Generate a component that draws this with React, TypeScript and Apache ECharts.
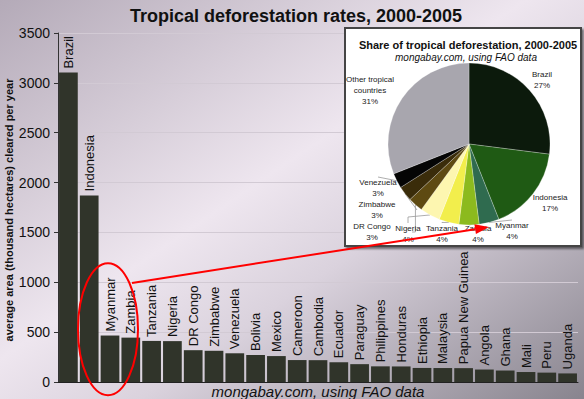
import React, { useEffect, useRef } from "react";
import * as echarts from "echarts";

const categories = ["Brazil","Indonesia","Myanmar","Zambia","Tanzania","Nigeria","DR Congo","Zimbabwe","Venezuela","Bolivia","Mexico","Cameroon","Cambodia","Ecuador","Paraguay","Philippines","Honduras","Ethiopia","Malaysia","Papua New Guinea","Angola","Ghana","Mali","Peru","Uganda"];
const rates = [3103,1871,466,445,412,410,319,313,288,270,260,220,219,198,179,157,156,141,140,139,125,115,100,94,86];
const yTicks = [0, 500, 1000, 1500, 2000, 2500, 3000, 3500];
const yTitle = "average area (thousand hectares) cleared per year";

const pieNames = ["Brazil","Indonesia","Myanmar","Zambia","Tanzania","Nigeria","DR Congo","Zimbabwe","Venezuela","Other tropical\ncountries"];
const pieShares = [27,17,4,4,4,4,3,3,3,31];
const pieColors = ["#0c1a0c","#1f5a14","#2f6b4f","#8cba1e","#f2ee4c","#fdf6b0","#5e4a12","#3a2c0a","#050505","#a8a6ae"];
// label anchor positions inside the inset box (layout only)
const pieLabelPos = [[542,80],[550,203],[512,231],[478,234],[442,234],[408,234],[372,232],[377,210],[378,188],[370,90]];
const pieLabelLine = [false,false,true,true,true,true,true,true,true,false];

const FONT = "'Liberation Sans', Arial, sans-serif";

export default function App() {
  const ref = useRef<HTMLDivElement>(null);
  useEffect(() => {
    document.body.style.margin = "0";
    const chart = echarts.init(ref.current!, null, { renderer: "svg" });
    const boxRect = {
      type: "rect",
      z: 1,
      shape: { x: 345, y: 28, width: 236, height: 218 },
      style: { fill: "#ffffff", stroke: "#444", lineWidth: 2, shadowColor: "rgba(0,0,0,0.5)", shadowOffsetX: 2, shadowOffsetY: 2, shadowBlur: 2 },
    };
    const yName = {
      type: "text",
      z: 10,
      x: 9,
      y: 210,
      rotation: Math.PI / 2,
      style: {
        text: yTitle,
        fontSize: 11,
        fontWeight: "bold",
        fill: "#111",
        fontFamily: FONT,
        align: "center",
        verticalAlign: "middle",
      },
    };
    const option: any = {
      animation: false,
      backgroundColor: new echarts.graphic.LinearGradient(0, 0, 1, 1, [
        { offset: 0, color: "#b4aab8" },
        { offset: 0.45, color: "#eee6ef" },
        { offset: 0.62, color: "#dad2dd" },
        { offset: 1, color: "#88848e" },
      ]),
      textStyle: { fontFamily: FONT },
      title: [
        {
          text: "Tropical deforestation rates, 2000-2005",
          left: 291, top: 2, textAlign: "center",
          textStyle: { fontSize: 18, fontWeight: "bold", color: "#111", fontFamily: FONT },
        },
        {
          text: "Share of tropical deforestation, 2000-2005",
          left: 463, top: 34, textAlign: "center",
          textStyle: { fontSize: 11, fontWeight: "bold", color: "#111", fontFamily: FONT },
        },
        {
          text: "mongabay.com, using FAO data",
          left: 461, top: 47, textAlign: "center",
          textStyle: { fontSize: 10, fontStyle: "italic", fontWeight: "normal", color: "#111", fontFamily: FONT },
        },
      ],
      grid: { left: 58, right: 6, top: 33, bottom: 17, containLabel: false, outerBoundsMode: "none" },
      xAxis: {
        type: "category",
        data: categories,
        axisLine: { lineStyle: { color: "#222", width: 1 } },
        axisTick: { show: false },
        axisLabel: { show: false },
        name: "mongabay.com, using FAO data",
        nameLocation: "middle",
        nameGap: 2,
        nameTextStyle: { fontSize: 15, fontStyle: "italic", color: "#111", fontFamily: FONT, verticalAlign: "top" },
      },
      yAxis: {
        type: "value",
        min: yTicks[0],
        max: yTicks[yTicks.length - 1],
        interval: 500,
        axisLine: { show: true, lineStyle: { color: "#333" } },
        axisTick: { show: true, length: 4, lineStyle: { color: "#333" } },
        axisLabel: { fontSize: 14, color: "#111", margin: 8, fontFamily: FONT, formatter: (v: number) => String(v) },
        splitLine: { lineStyle: { color: "#d2cad4", width: 1 } },
      },
      series: [
        {
          type: "bar",
          data: rates,
          barCategoryGap: "10%",
          itemStyle: { color: "#30342a" },
          label: {
            show: true,
            position: "top",
            rotate: 90,
            align: "left",
            verticalAlign: "middle",
            distance: 4,
            formatter: (p: any) => p.name,
            fontSize: 13,
            color: "#111",
            fontFamily: FONT,
          },
          z: 2,
        },
        {
          type: "pie",
          center: [469, 144],
          radius: 81,
          startAngle: 90,
          clockwise: true,
          z: 5,
          data: pieNames.map((n, i) => ({
            name: n,
            value: pieShares[i],
            itemStyle: { color: pieColors[i] },
            labelLine: { show: pieLabelLine[i] },
          })),
          itemStyle: { borderColor: "rgba(255,255,255,0.5)", borderWidth: 0.5 },
          label: {
            show: true,
            position: "outside",
            overflow: "none",
            width: 80,
            formatter: (p: any) => p.name + "\n" + p.value + "%",
            fontSize: 8,
            lineHeight: 11,
            color: "#222",
            fontFamily: FONT,
            align: "center",
          },
          labelLine: { show: true, length: 8, length2: 6, lineStyle: { color: "#999", width: 0.8 } },
          labelLayout: (p: any) => ({
            x: pieLabelPos[p.dataIndex][0],
            y: pieLabelPos[p.dataIndex][1],
            align: "center",
            verticalAlign: "middle",
          }),
        },
      ],
      graphic: [boxRect, yName],
    };
    chart.setOption(option);
    const cx = chart.convertToPixel({ gridIndex: 0 }, [categories[2], 530]) as number[];
    const start = [cx[0] + 22, 283];
    const tip = [489, 227];
    const ang = Math.atan2(tip[1] - start[1], tip[0] - start[0]);
    const L = 14, W = 5;
    const bx = tip[0] - L * Math.cos(ang), by = tip[1] - L * Math.sin(ang);
    const px = -Math.sin(ang) * W, py = Math.cos(ang) * W;
    chart.setOption({
      graphic: [
        boxRect,
        yName,
        {
          type: "ellipse",
          z: 20,
          shape: { cx: cx[0] - 2, cy: cx[1], rx: 30, ry: 66 },
          style: { fill: "none", stroke: "#ff0000", lineWidth: 2 },
        },
        {
          type: "line",
          z: 20,
          shape: { x1: start[0], y1: start[1], x2: bx, y2: by },
          style: { stroke: "#ff0000", lineWidth: 2 },
        },
        {
          type: "polygon",
          z: 20,
          shape: { points: [[tip[0], tip[1]], [bx + px, by + py], [bx - px, by - py]] },
          style: { fill: "#ff0000" },
        },
      ],
    });
    return () => chart.dispose();
  }, []);
  return <div ref={ref} style={{ position: "fixed", left: 0, top: 0, width: 584, height: 399 }} />;
}
